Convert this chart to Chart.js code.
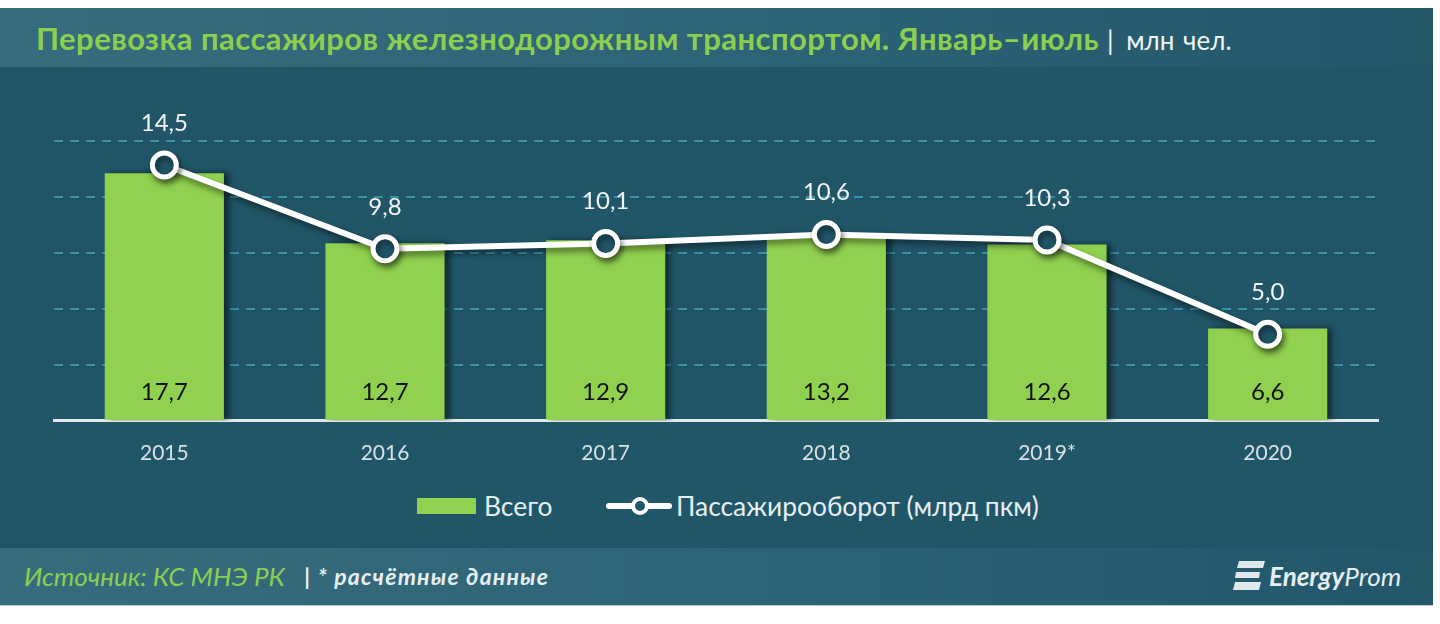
<!DOCTYPE html>
<html lang="ru">
<head>
<meta charset="utf-8">
<title>Перевозка пассажиров железнодорожным транспортом</title>
<script src="https://cdn.jsdelivr.net/npm/chart.js@4"></script>
<style>
  html, body { margin: 0; padding: 0; background: #fff; }
  body { width: 1440px; height: 624px; position: relative; overflow: hidden; font-family: Lato, "Noto Sans", sans-serif; }
  #panel { position: absolute; left: 0; top: 8px; width: 1433px; height: 597px; background: #205668; box-shadow: 0 1px 0 #b9c9ce; }
  #head, #foot { position: absolute; left: 0; width: 100%; background: linear-gradient(90deg, #366c7d 0%, #2e6477 50%, #215769 100%); }
  #head { top: 0; height: 59px; }
  #foot { top: 540px; height: 57px; }
  #title { position: absolute; left: 36px; top: 12px; font-size: 31px; letter-spacing: 0.45px; line-height: 36px; font-weight: 700; color: #8ccf4f; white-space: nowrap; }
  #unit { font-size: 26px; letter-spacing: 0; font-weight: 400; color: #f0f5f5; word-spacing: 2px; }
  #unit i { font-style: normal; margin-right: 4px; }
  #source { position: absolute; left: 24px; top: 12px; font-size: 26px; line-height: 32px; font-style: italic; color: #8ccf4f; white-space: nowrap; }
  #note { position: absolute; left: 304px; top: 12px; font-size: 23px; letter-spacing: 1.2px; line-height: 32px; font-style: italic; font-weight: 700; color: #e6eef0; white-space: nowrap; }
  #logo { position: absolute; left: 1233px; top: 10px; height: 36px; display: flex; align-items: center; color: #e6eef0; font-size: 26px; font-style: italic; }
  #logo b { font-weight: 700; }
  #logo svg { margin-right: 4px; }
  #legend { position: absolute; top: 490px; left: 0; width: 100%; height: 32px; color: #e6eef0; font-size: 26.4px; line-height: 32px; }
  #legend span { position: absolute; top: 0; white-space: nowrap; }
  #swatch { position: absolute; left: 417px; top: 8px; width: 59px; height: 16px; background: #90d14f; }
  #legLine { position: absolute; left: 606px; top: 13px; width: 66px; height: 6px; border-radius: 3px; background: #fff; }
  #legDot { position: absolute; left: 631px; top: 7px; width: 10px; height: 10px; border: 4px solid #fff; border-radius: 50%; background: #205668; }
  #chart { position: absolute; left: 0; top: 0; }
</style>
</head>
<body>
<div id="panel">
  <div id="head"><div id="title"></div></div>
  <div id="foot">
    <div id="source"></div>
    <div id="note"></div>
    <div id="logo">
      <svg width="32" height="32" viewBox="0 0 32 32"><path d="M6 1h26l-2 7H4zM3 12h24l-1 6H2zM2 22h26l-2 8H0z" fill="#dfe8ea"/></svg>
      <span><b>Energy</b>Prom</span>
    </div>
  </div>
</div>
<div id="legend">
  <div id="swatch"></div><span id="legBars" style="left:484px"></span>
  <div id="legLine"></div><div id="legDot"></div><span id="legPoints" style="left:676px"></span>
</div>
<canvas id="chart" width="1440" height="624"></canvas>
<script>
const titleText = "Перевозка пассажиров железнодорожным транспортом. Январь–июль";
const unitText = "млн чел.";
const sourceText = "Источник: КС МНЭ РК";
const noteText = "| * расчётные данные";

const years = ["2015", "2016", "2017", "2018", "2019*", "2020"];
const totalLabel = "Всего";
const totalValues = [17.7, 12.7, 12.9, 13.2, 12.6, 6.6];
const turnoverLabel = "Пассажирооборот (млрд пкм)";
const turnoverValues = [14.5, 9.8, 10.1, 10.6, 10.3, 5.0];

document.getElementById("title").innerHTML = titleText + ' <span id="unit"><i>|</i> ' + unitText + "</span>";
document.getElementById("source").innerText = sourceText;
document.getElementById("note").innerText = noteText;
document.getElementById("legBars").innerText = totalLabel;
document.getElementById("legPoints").innerText = turnoverLabel;

const fmt = (v) => v.toFixed(1).replace(".", ",");

// Soft shadow under the bars and the line
const shadowPlugin = {
  id: "shadow",
  beforeDatasetDraw(chart, args) {
    const ctx = chart.ctx;
    ctx.save();
    ctx.shadowColor = "rgba(0, 0, 0, 0.5)";
    ctx.shadowBlur = 6;
    ctx.shadowOffsetX = args.index === 0 ? 5 : 2;
    ctx.shadowOffsetY = args.index === 0 ? 0 : 4;
  },
  afterDatasetDraw(chart) {
    chart.ctx.restore();
  },
};

// Value labels: black at the foot of each bar, white above each point
const valueLabels = {
  id: "valueLabels",
  afterDatasetsDraw(chart) {
    const ctx = chart.ctx;
    ctx.save();
    ctx.textAlign = "center";
    ctx.textBaseline = "middle";
    ctx.font = "24px Lato, 'Noto Sans', sans-serif";
    chart.getDatasetMeta(0).data.forEach((bar, i) => {
      ctx.fillStyle = "#111";
      ctx.fillText(fmt(totalValues[i]), bar.x, chart.chartArea.bottom - 29);
    });
    chart.getDatasetMeta(1).data.forEach((pt, i) => {
      ctx.fillStyle = "#f2f6f6";
      ctx.fillText(fmt(turnoverValues[i]), pt.x, pt.y - 42);
    });
    ctx.restore();
  },
};

const ctx = document.getElementById("chart").getContext("2d");
new Chart(ctx, {
  type: "bar",
  data: {
    labels: years,
    datasets: [
      {
        label: totalLabel,
        data: totalValues,
        backgroundColor: "#90d14f",
        categoryPercentage: 1,
        barPercentage: 0.54,
        yAxisID: "y",
        order: 2,
      },
      {
        type: "line",
        label: turnoverLabel,
        data: turnoverValues,
        borderColor: "#ffffff",
        borderWidth: 6,
        tension: 0,
        pointRadius: 12,
        pointBorderWidth: 5,
        pointBorderColor: "#ffffff",
        pointBackgroundColor: "#205668",
        yAxisID: "y1",
        order: 1,
      },
    ],
  },
  options: {
    responsive: false,
    animation: false,
    layout: { padding: { left: 54, right: 62, top: 141, bottom: 146 } },
    plugins: { legend: { display: false }, tooltip: { enabled: false } },
    scales: {
      x: {
        grid: { display: false },
        border: { color: "#e3e9ea", width: 3 },
        ticks: { color: "#d8e2e4", padding: 12, maxRotation: 0, font: { family: "Lato, 'Noto Sans', sans-serif", size: 21 } },
      },
      y: {
        display: true,
        min: 0,
        max: 20,
        afterFit: (s) => { s.width = 0; },
        border: { display: false, dash: [9, 7] },
        grid: { color: (c) => (c.tick.value === 0 ? "transparent" : "#3a8ea6"), lineWidth: 2, drawTicks: false },
        ticks: { display: false, stepSize: 4 },
      },
      y1: { display: false, position: "right", min: 0.15, max: 15.85 },
    },
  },
  plugins: [shadowPlugin, valueLabels],
});
</script>
</body>
</html>
